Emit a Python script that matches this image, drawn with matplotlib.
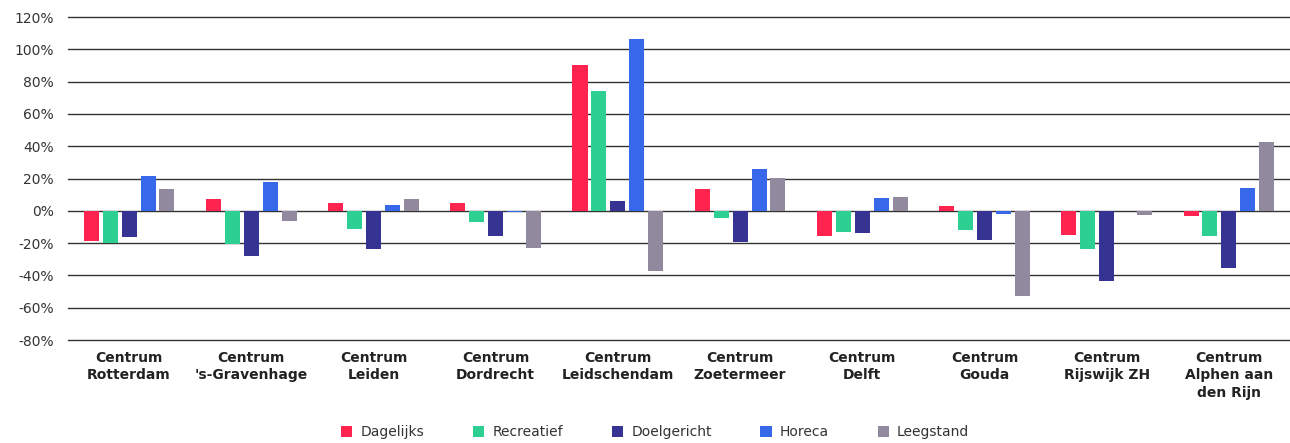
import matplotlib
matplotlib.use("Agg")
import matplotlib.pyplot as plt
import numpy as np

plt.rcParams['font.family'] = ['DejaVu Sans']

categories = ["Centrum\nRotterdam", "Centrum\n's-Gravenhage", "Centrum\nLeiden", "Centrum\nDordrecht",
              "Centrum\nLeidschendam", "Centrum\nZoetermeer", "Centrum\nDelft", "Centrum\nGouda",
              "Centrum\nRijswijk ZH", "Centrum\nAlphen aan\nden Rijn"]
series_names = ["Dagelijks", "Recreatief", "Doelgericht", "Horeca", "Leegstand"]
dagelijks   = [-18.4,  7.4,   4.9,   4.7,  90.1, 13.6, -15.3,   2.9, -15.1,  -3.5]
recreatief  = [-20.2, -20.6, -11.1,  -7.0, 74.4, -4.7, -13.0, -12.0, -23.9, -15.5]
doelgericht = [-16.1, -27.8, -23.5, -15.7,  6.0, -19.2, -14.0, -18.1, -43.7, -35.5]
horeca      = [21.4,  17.9,   3.3,  -0.8, 106.4, 26.0,   8.2,  -1.9,   0.0,  14.2]
leegstand   = [13.6,  -6.6,   7.4, -23.1, -37.5, 20.6,   8.5, -53.0,  -2.3,  42.5]
yticks = [-80, -60, -40, -20, 0, 20, 40, 60, 80, 100, 120]

colors = ["#FF2350", "#2ECF93", "#373392", "#3768EA", "#918A9E"]
series = [dagelijks, recreatief, doelgericht, horeca, leegstand]

fig = plt.figure(figsize=(12.9, 4.43), dpi=100)
ax = fig.add_axes([0.0527, 0.2325, 0.9473, 0.7291])

x = np.arange(len(categories))
pitch = 0.155
width = 0.123
for i, (vals, col, name) in enumerate(zip(series, colors, series_names)):
    ax.bar(x + (i - 2) * pitch, vals, width=width, color=col, label=name, zorder=3)

ax.set_xlim(-0.5, len(categories) - 0.5)
ax.set_ylim(-80, 120)
ax.set_yticks(yticks)
ax.set_yticklabels([f"{v}%" for v in yticks], fontsize=10, color="#333333")
for v in yticks:
    ax.axhline(v, color="#333333", linewidth=1.0, zorder=1, clip_on=False)
for s in ax.spines.values():
    s.set_visible(False)
ax.tick_params(axis='both', length=0)
ax.tick_params(axis='y', pad=10)
ax.set_xticks(x)
ax.set_xticklabels(categories, fontsize=10, fontweight='bold', color="#222222", linespacing=1.3)
ax.tick_params(axis='x', pad=8)

leg = fig.legend(*ax.get_legend_handles_labels(), loc='center', bbox_to_anchor=(0.508, 0.024),
                 ncol=5, frameon=False, fontsize=10, handlelength=0.8, handleheight=0.9,
                 handletextpad=0.6, columnspacing=3.5)
for t in leg.get_texts():
    t.set_color("#333333")

fig.savefig("out.png", dpi=100)
